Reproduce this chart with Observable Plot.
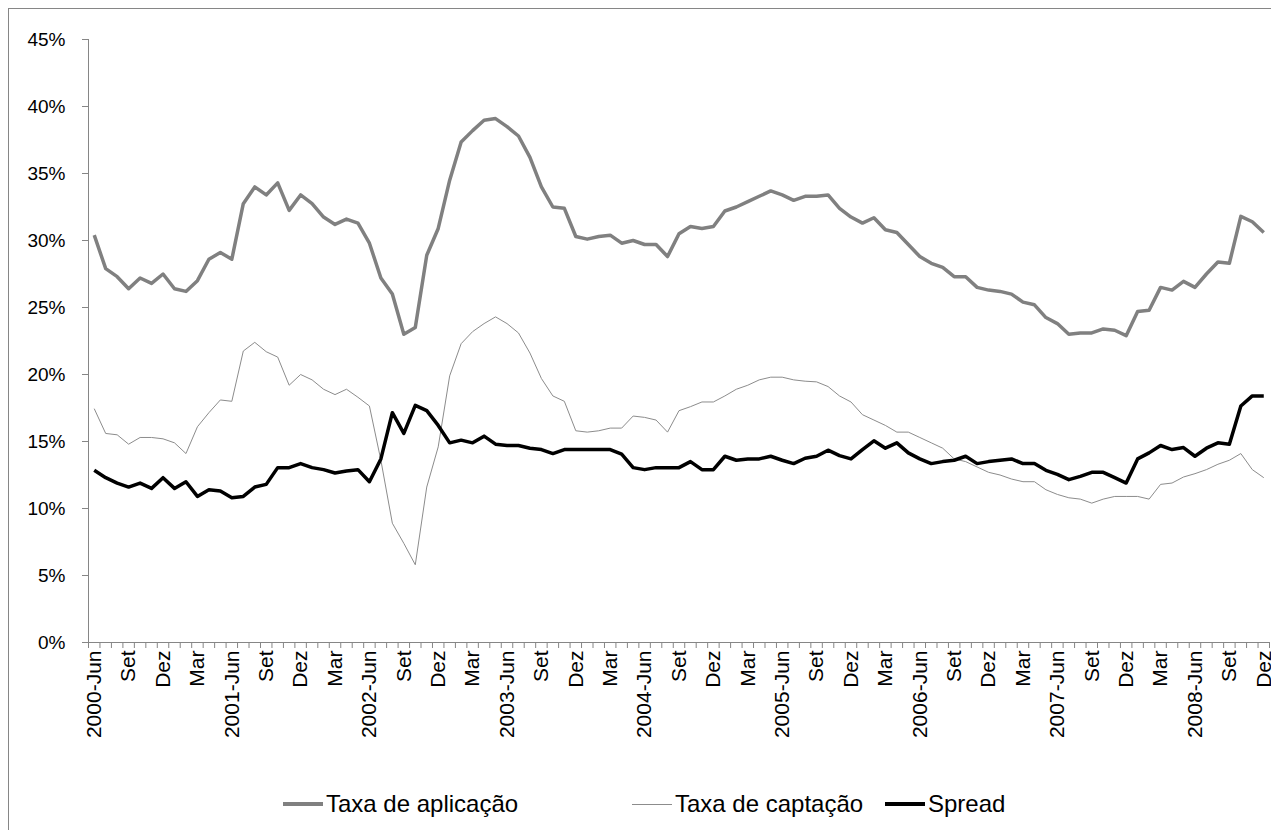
<!DOCTYPE html>
<html><head><meta charset="utf-8">
<script src="https://cdn.jsdelivr.net/npm/d3@7"></script>
<script src="https://cdn.jsdelivr.net/npm/@observablehq/plot@0.6"></script>
<style>
body{margin:0;background:#fff;font-family:"Liberation Sans",Arial,sans-serif;}
#wrap{position:relative;width:1271px;height:830px;overflow:hidden;background:#fff;}
#frame{position:absolute;left:8px;top:8px;width:1400px;height:1000px;border:1px solid #868686;box-sizing:border-box;}
#chart{position:absolute;left:0;top:0;}
#legend{position:absolute;top:786px;left:0;width:1271px;height:36px;font-size:24px;color:#000;}
.item{position:absolute;top:0;display:flex;align-items:center;height:36px;white-space:nowrap;}
.sw{display:inline-block;width:40px;margin-right:3px;}
</style></head>
<body>
<div id="wrap">
<div id="frame"></div>
<div id="chart"></div>
<div id="legend"></div>
</div>
<script>
// Monthly series, 2000-Jun .. 2008-Dez (values in %)
const aplicacao = [30.4,27.9,27.3,26.4,27.2,26.8,27.5,26.4,26.2,27.0,
28.6,29.1,28.6,32.75,34.0,33.4,34.3,32.25,33.4,32.75,
31.75,31.2,31.6,31.3,29.8,27.2,26.0,23.0,23.5,28.9,
30.9,34.5,37.35,38.2,38.97,39.1,38.5,37.8,36.2,34.0,
32.5,32.4,30.3,30.1,30.3,30.4,29.8,30.0,29.7,29.7,
28.8,30.5,31.05,30.9,31.05,32.2,32.5,32.9,33.3,33.7,
33.4,33.0,33.3,33.3,33.4,32.4,31.75,31.3,31.7,30.8,
30.6,29.7,28.8,28.3,28.0,27.3,27.3,26.5,26.3,26.2,
26.0,25.4,25.2,24.25,23.8,23.0,23.1,23.1,23.4,23.3,
22.9,24.7,24.8,26.5,26.3,26.95,26.5,27.5,28.4,28.3,
31.8,31.4,30.6];
const captacao = [17.45,15.6,15.5,14.8,15.3,15.3,15.2,14.9,14.1,16.1,
17.15,18.1,18.0,21.75,22.4,21.7,21.3,19.2,20.0,19.6,
18.9,18.5,18.9,18.3,17.65,13.6,8.9,7.4,5.8,11.6,
14.6,19.9,22.3,23.2,23.8,24.3,23.8,23.1,21.6,19.7,
18.4,18.0,15.8,15.7,15.8,16.0,16.0,16.9,16.8,16.6,
15.7,17.3,17.6,17.95,17.95,18.4,18.9,19.2,19.6,19.8,
19.8,19.6,19.5,19.45,19.1,18.4,17.95,17.0,16.6,16.2,
15.7,15.7,15.3,14.9,14.5,13.7,13.5,13.1,12.7,12.5,
12.2,12.0,12.0,11.4,11.05,10.8,10.7,10.4,10.7,10.9,
10.9,10.9,10.7,11.8,11.9,12.35,12.6,12.9,13.3,13.6,
14.1,12.9,12.3];
const spread = [12.85,12.3,11.9,11.6,11.9,11.5,12.3,11.5,12.0,10.9,
11.4,11.3,10.8,10.9,11.6,11.8,13.05,13.05,13.35,13.05,
12.9,12.65,12.8,12.9,12.0,13.7,17.15,15.6,17.7,17.3,
16.2,14.9,15.1,14.9,15.4,14.8,14.7,14.7,14.5,14.4,
14.1,14.4,14.4,14.4,14.4,14.4,14.05,13.05,12.9,13.05,
13.05,13.05,13.5,12.9,12.9,13.9,13.6,13.7,13.7,13.9,
13.6,13.35,13.75,13.9,14.35,13.95,13.7,14.4,15.05,14.5,
14.9,14.15,13.7,13.35,13.5,13.6,13.9,13.35,13.5,13.6,
13.7,13.35,13.35,12.85,12.55,12.15,12.4,12.7,12.7,12.3,
11.9,13.7,14.15,14.7,14.4,14.55,13.9,14.5,14.9,14.8,
17.65,18.4,18.4];
// Category tick labels, every third month
const tickLabels = ["2000-Jun","Set","Dez","Mar","2001-Jun","Set","Dez","Mar","2002-Jun","Set","Dez","Mar",
"2003-Jun","Set","Dez","Mar","2004-Jun","Set","Dez","Mar","2005-Jun","Set","Dez","Mar",
"2006-Jun","Set","Dez","Mar","2007-Jun","Set","Dez","Mar","2008-Jun","Set","Dez"];
const yTicks = [0,5,10,15,20,25,30,35,40,45];
const seriesNames = ["Taxa de aplicação","Taxa de captação","Spread"];
const seriesColors = ["#808080","#8c8c8c","#000000"];
const seriesWidths = [3.5,1,3.5];

const n = aplicacao.length;
const all = [aplicacao, captacao, spread];
const rows = seriesNames.map((s, k) => all[k].map((v, i) => ({i, v, s})));
const bounds = d3.range(n + 1).map(b => b - 0.5);
const labelIdx = tickLabels.map((_, k) => k * 3);
const AX = "#868686";

const chart = Plot.plot({
  width: 1271, height: 830,
  marginLeft: 88, marginRight: 2, marginTop: 39, marginBottom: 188,
  style: {fontFamily: '"Liberation Sans", Arial, sans-serif', background: "transparent", color: "#000"},
  x: {type: "linear", domain: [-0.5, n - 0.5], axis: null},
  y: {type: "linear", domain: [0, 45], axis: null},
  marks: [
    Plot.ruleX([-0.5], {stroke: AX, strokeWidth: 1}),
    Plot.ruleY([0], {stroke: AX, strokeWidth: 1}),
    Plot.axisY(yTicks, {anchor: "left", tickSize: 6, tickPadding: 17, stroke: AX, fill: "#000",
      fontSize: 19, tickFormat: d => d + "%", label: null}),
    Plot.axisX(bounds, {anchor: "bottom", tickSize: 6, stroke: AX, tickFormat: () => "", label: null}),
    Plot.text(labelIdx, {x: d => d, y: () => 0, text: (d, k) => tickLabels[k], rotate: -90,
      textAnchor: "end", lineAnchor: "middle", dy: 8, fontSize: 21, fill: "#000"}),
    ...rows.map((r, k) => Plot.line(r, {x: "i", y: "v", stroke: seriesColors[k],
      strokeWidth: seriesWidths[k], strokeLinejoin: "round", strokeLinecap: "butt"}))
  ]
});
document.getElementById("chart").appendChild(chart);

const legend = document.getElementById("legend");
const lefts = [283, 632, 885];
seriesNames.forEach((s, k) => {
  const it = document.createElement("div");
  it.className = "item";
  it.style.left = lefts[k] + "px";
  const sw = document.createElement("span");
  sw.className = "sw";
  sw.style.height = seriesWidths[k] + "px";
  sw.style.background = seriesColors[k];
  it.appendChild(sw);
  it.appendChild(document.createTextNode(s));
  legend.appendChild(it);
});
</script>
</body></html>
